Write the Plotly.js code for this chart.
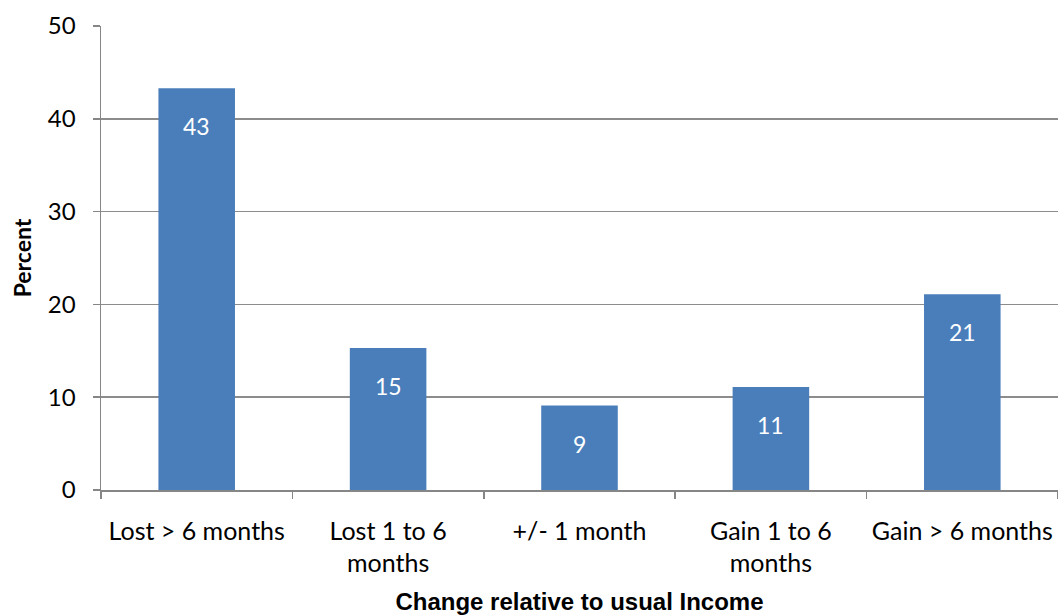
<!DOCTYPE html>
<html>
<head>
<meta charset="utf-8">
<script src="https://cdn.plot.ly/plotly-3.0.1.min.js"></script>
<style>html,body{margin:0;padding:0;background:#fff;}#chart{width:1058px;height:615px;}</style>
</head>
<body>
<div id="chart"></div>
<script>
const categories = ["Lost > 6 months", "Lost 1 to 6<br>months", "+/- 1 month", "Gain 1 to 6<br>months", "Gain > 6 months"];
const percents = [43.3, 15.3, 9.1, 11.1, 21.1];
const yTicks = [0, 10, 20, 30, 40, 50];

const labelFont = "Lato, Calibri, 'Liberation Sans', sans-serif";

const trace = {
  type: "bar",
  x: categories,
  y: percents,
  width: 0.4,
  marker: {color: "#4a7ebb", line: {width: 0}},
  hoverinfo: "none"
};

const annotations = categories.map((c, i) => ({
  x: c, y: percents[i], xref: "x", yref: "y",
  text: String(Math.round(percents[i])),
  showarrow: false, yanchor: "middle", yshift: -38,
  font: {family: labelFont, size: 23, color: "#ffffff"}
}));

const layout = {
  width: 1058, height: 615,
  margin: {l: 101, r: 0, t: 26, b: 125},
  paper_bgcolor: "#ffffff", plot_bgcolor: "#ffffff",
  showlegend: false,
  xaxis: {
    type: "category",
    showline: true, linecolor: "#868686", linewidth: 1.5,
    ticks: "outside", tickson: "boundaries", ticklen: 7, tickcolor: "#868686", tickwidth: 1.5,
    ticklabelstandoff: 18,
    tickfont: {family: labelFont, size: 25, color: "#000000"},
    showgrid: false, zeroline: false,
    title: {text: "Change relative to usual Income", standoff: 17,
      font: {family: "'Liberation Sans', Arial, sans-serif", size: 24, color: "#000000", weight: 900}}
  },
  yaxis: {
    range: [0, 50], tickvals: yTicks, ticktext: yTicks.map(String),
    showline: true, linecolor: "#868686", linewidth: 1.5,
    ticks: "outside", ticklen: 7, tickcolor: "#868686", tickwidth: 1.5,
    ticklabelstandoff: 12,
    tickfont: {family: labelFont, size: 24, color: "#000000"},
    showgrid: true, gridcolor: "#8c8c8c", gridwidth: 1.5,
    zeroline: false,
    title: {text: "<b>Percent</b>", standoff: 10,
      font: {family: labelFont, size: 23, color: "#000000"}}
  },
  annotations: annotations
};

Plotly.newPlot("chart", [trace], layout, {displayModeBar: false, staticPlot: true});
</script>
</body>
</html>
